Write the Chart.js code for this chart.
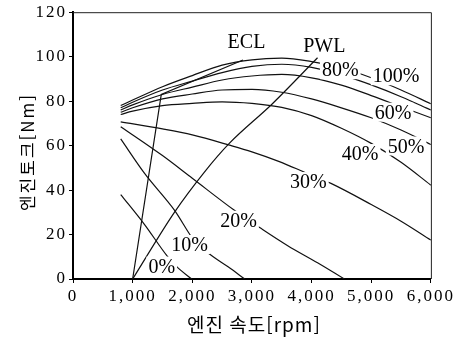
<!DOCTYPE html>
<html lang="ko">
<head>
<meta charset="utf-8">
<script src="https://cdn.jsdelivr.net/npm/chart.js@4.4.1/dist/chart.umd.min.js"></script>
<style>
  html, body { margin: 0; padding: 0; background: #fff; }
  #wrap { width: 453px; height: 337px; }
</style>
</head>
<body>
<div id="wrap"><canvas id="c" width="453" height="337"></canvas></div>
<script>
// Engine speed grid shared by the upper throttle-opening curves [rpm]
const rpmGrid   = [800, 1000, 1500, 2000, 2500, 3000, 3500, 4000, 4500, 5000, 5500, 6000];
// Engine torque at each throttle opening [Nm]
const torque100 = [78, 80.5, 86.5, 91.5, 96.2, 98.6, 99.3, 97.8, 95, 90.5, 85, 78.8];
const torque80  = [77, 79.5, 85, 89, 92.8, 95.6, 96.6, 95.2, 91.8, 87.3, 82, 76];
const torque60  = [76, 78.3, 83, 86.3, 89.5, 91.3, 92, 90.5, 87.2, 82.5, 77.5, 72.5];
const torque50  = [75, 77, 81, 83.2, 85, 85.3, 84, 81, 77, 72.5, 67, 60.5];
const torque40  = [74, 75.5, 78, 79, 79.7, 79, 77.2, 73.5, 67.8, 61, 52.5, 42.2];

const rpm30    = [800, 1500, 2000, 2625, 3000, 3460, 3900, 4325, 5000, 5500, 6000];
const torque30 = [70.7, 67.5, 64.8, 60.2, 57.2, 52.8, 47.8, 43, 33.5, 26, 17.5];

const rpm20    = [800, 1500, 2000, 2700, 3150, 3600, 4100, 4550];
const torque20 = [68.5, 55.5, 45.3, 31, 22.8, 15, 7.3, 0];

const rpm10    = [800, 1200, 1700, 2040, 2300, 2600, 2880];
const torque10 = [63, 47.5, 31, 17, 11, 5.5, 0];

const rpm0     = [800, 1200, 1580, 1760, 1990];
const torque0  = [38, 24.5, 10.3, 5, 0];

// Economy line (ECL) and power line (PWL)
const eclRpm    = [1000, 1480, 2850];
const eclTorque = [0, 83, 98.5];
const pwlRpm    = [1000, 1700, 2200, 2620, 3330, 4100];
const pwlTorque = [0, 30, 48, 61, 78.5, 99.5];

// Axis ticks
const rpmTicks    = [0, 1000, 2000, 3000, 4000, 5000, 6000];
const torqueTicks = [0, 20, 40, 60, 80, 100, 120];

// Curve names, anchored in data units (rpm, Nm)
const curveNotes = [
  { text: 'ECL',  rpm: 2909, nm: 106.5, mask: false },
  { text: 'PWL',  rpm: 4213, nm: 104.7, mask: false },
  { text: '80%',  rpm: 4481, nm: 93.9,  mask: true },
  { text: '100%', rpm: 5417, nm: 91.2,  mask: true },
  { text: '60%',  rpm: 5367, nm: 74.8,  mask: true },
  { text: '50%',  rpm: 5584, nm: 59.6,  mask: true },
  { text: '40%',  rpm: 4815, nm: 56.2,  mask: true },
  { text: '30%',  rpm: 3946, nm: 43.6,  mask: true },
  { text: '20%',  rpm: 2775, nm: 26.2,  mask: true },
  { text: '10%',  rpm: 1956, nm: 15.3,  mask: true },
  { text: '0%',   rpm: 1488, nm: 5.6,   mask: true }
];

const pts = (xs, ys) => xs.map((v, i) => ({ x: v, y: ys[i] }));

function curve(data, straight) {
  return {
    data,
    borderColor: '#111',
    borderWidth: 1.2,
    pointRadius: 0,
    fill: false,
    tension: straight ? 0 : 0.4,
    cubicInterpolationMode: straight ? 'default' : 'monotone'
  };
}

const datasets = [
  curve(pts(rpmGrid, torque100)),
  curve(pts(rpmGrid, torque80)),
  curve(pts(rpmGrid, torque60)),
  curve(pts(rpmGrid, torque50)),
  curve(pts(rpmGrid, torque40)),
  curve(pts(rpm30, torque30)),
  curve(pts(rpm20, torque20)),
  curve(pts(rpm10, torque10)),
  curve(pts(rpm0, torque0)),
  curve(pts(eclRpm, eclTorque), true),
  curve(pts(pwlRpm, pwlTorque))
];

const serif = '"Liberation Serif", "Times New Roman", serif';
const gothic = '"Noto Sans CJK KR", "Noto Sans", sans-serif';

const decorations = {
  id: 'decorations',
  beforeDraw(chart) {
    // wider digit spacing for the tick labels
    chart.ctx.letterSpacing = '2px';
  },
  beforeDatasetsDraw(chart) {
    chart.ctx.letterSpacing = '0px';
  },
  afterDatasetsDraw(chart) {
    const { ctx, chartArea: a, scales: { x, y } } = chart;
    ctx.save();
    // top and right frame lines
    ctx.strokeStyle = '#222';
    ctx.lineWidth = 1;
    ctx.beginPath();
    ctx.moveTo(a.left, a.top + 0.5);
    ctx.lineTo(a.right + 0.5, a.top + 0.5);
    ctx.lineTo(a.right + 0.5, a.bottom);
    ctx.stroke();

    ctx.font = '20px ' + serif;
    ctx.textAlign = 'center';
    ctx.textBaseline = 'middle';
    for (const n of curveNotes) {
      const px = x.getPixelForValue(n.rpm);
      const py = y.getPixelForValue(n.nm);
      const w = ctx.measureText(n.text).width;
      if (n.mask) {
        ctx.fillStyle = '#fff';
        ctx.fillRect(px - w / 2 - 2, py - 10, w + 4, 19);
      }
      ctx.fillStyle = '#000';
      ctx.fillText(n.text, px, py + 1);
    }
    ctx.restore();
  },
  afterDraw(chart) {
    const { ctx, chartArea: a } = chart;
    ctx.save();
    ctx.fillStyle = '#000';
    ctx.textAlign = 'center';
    ctx.textBaseline = 'middle';
    ctx.font = '19px ' + gothic;
    ctx.letterSpacing = '1px';
    ctx.fillText('엔진 속도[rpm]', (a.left + a.right) / 2 + 2, 325);
    ctx.translate(28, 154);
    ctx.rotate(-Math.PI / 2);
    ctx.font = '17px ' + gothic;
    ctx.letterSpacing = '2px';
    ctx.fillText('엔진토크[Nm]', 2, 0);
    ctx.restore();
  }
};

new Chart(document.getElementById('c'), {
  type: 'line',
  data: { datasets },
  options: {
    responsive: false,
    animation: false,
    devicePixelRatio: 1,
    layout: { padding: { left: 0, right: 21, top: 12, bottom: 0 } },
    plugins: { legend: { display: false }, tooltip: { enabled: false } },
    scales: {
      x: {
        type: 'linear',
        min: 0, max: 6000,
        afterBuildTicks: s => { s.ticks = rpmTicks.map(v => ({ value: v })); },
        afterFit: s => { s.height = 58; },
        grid: { drawOnChartArea: false, drawTicks: true, tickLength: 4, color: '#000', lineWidth: 1 },
        border: { display: true, color: '#000', width: 2 },
        ticks: {
          color: '#000',
          font: { family: serif, size: 17 },
          padding: 3,
          maxRotation: 0,
          callback: v => v.toLocaleString('en-US')
        }
      },
      y: {
        type: 'linear',
        min: 0, max: 120,
        afterBuildTicks: s => { s.ticks = torqueTicks.map(v => ({ value: v })); },
        afterFit: s => { s.width = 73; },
        grid: { drawOnChartArea: false, drawTicks: true, tickLength: 4, color: '#000', lineWidth: 1 },
        border: { display: true, color: '#000', width: 2 },
        ticks: {
          color: '#000',
          font: { family: serif, size: 17 },
          padding: 2,
          callback: v => String(v)
        }
      }
    }
  },
  plugins: [decorations]
});
</script>
</body>
</html>
